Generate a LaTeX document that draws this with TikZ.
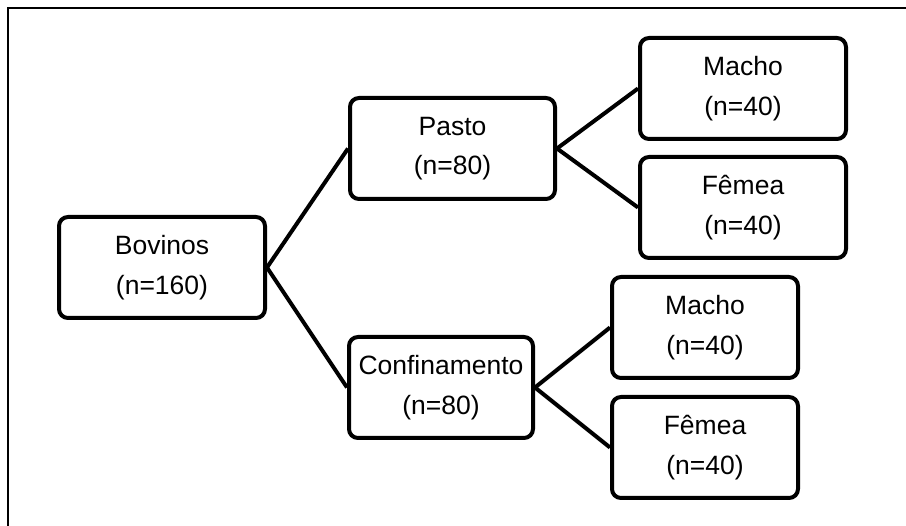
\documentclass[tikz,border=0pt]{standalone}
\usepackage{fontspec}
\setmainfont{Liberation Sans}
\begin{document}
\begin{tikzpicture}[x=1pt,y=-1pt,
  box/.style={draw=black, line width=4pt, rounded corners=9pt, fill=white,
    align=center, inner sep=0pt, minimum height=101pt,
    font=\fontsize{26.5}{39.5}\selectfont},
  link/.style={draw=black, line width=4pt}]
\useasboundingbox (0,0) rectangle (906,526);
\draw[line width=1.5pt] (8,526) -- (8,8) -- (906,8);
\node[box, minimum width=206pt] (bov) at (162,267.5) {Bovinos\\(n=160)};
\node[box, minimum width=205pt] (pas) at (452.5,148.5) {Pasto\\(n=80)};
\node[box, minimum width=184pt] (con) at (441,387.5) {Confinamento\\(n=80)};
\node[box, minimum width=206pt] (m1) at (743,88.5) {Macho\\(n=40)};
\node[box, minimum width=206pt] (f1) at (743,207.5) {Fêmea\\(n=40)};
\node[box, minimum width=186pt] (m2) at (705,327.5) {Macho\\(n=40)};
\node[box, minimum width=186pt] (f2) at (705,447.5) {Fêmea\\(n=40)};
\draw[link] (bov.east) -- (pas.west);
\draw[link] (bov.east) -- (con.west);
\draw[link] (pas.east) -- (m1.west);
\draw[link] (pas.east) -- (f1.west);
\draw[link] (con.east) -- (m2.west);
\draw[link] (con.east) -- (f2.west);
\end{tikzpicture}
\end{document}
